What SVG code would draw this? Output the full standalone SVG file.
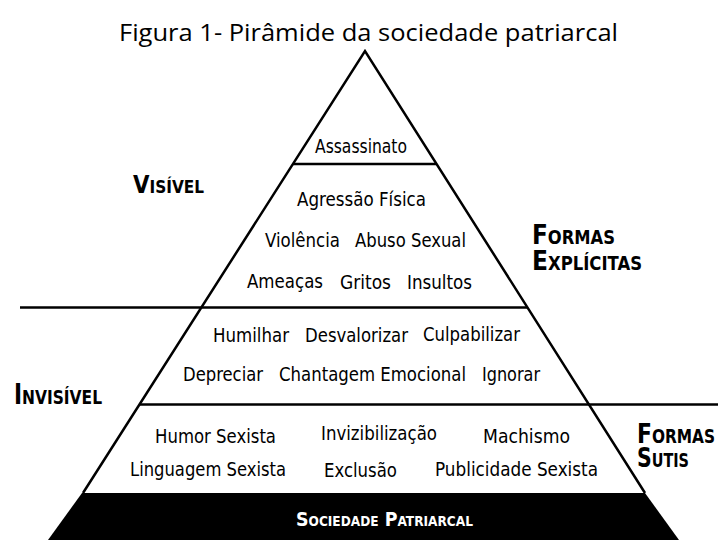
<svg xmlns="http://www.w3.org/2000/svg" width="722" height="540" viewBox="0 0 722 540">
<style>
.t{font-family:"Liberation Sans Narrow","DejaVu Sans Condensed","Liberation Sans",sans-serif;font-stretch:condensed;font-size:19px;fill:#000}
.b{font-family:"Liberation Sans Narrow","DejaVu Sans Condensed","Liberation Sans",sans-serif;font-stretch:condensed;font-weight:bold;font-variant:small-caps;fill:#000}
.title{font-family:"Open Sans","Liberation Sans",sans-serif;font-size:24px;fill:#000}
.ln{stroke:#000;stroke-width:2.5;fill:none}
</style>
<rect width="722" height="540" fill="#fff"/>
<text class="title" x="119" y="41" textLength="499" lengthAdjust="spacingAndGlyphs">Figura 1- Pirâmide da sociedade patriarcal</text>

<g id="connectors">
<path class="ln" d="M83,493 L365,51 L645,493"/>
<line class="ln" x1="293" y1="164" x2="436" y2="164" stroke-width="3"/>
<line class="ln" x1="20" y1="307.5" x2="527" y2="307.5"/>
<line class="ln" x1="140" y1="404.5" x2="718" y2="404.5"/>
</g>

<g id="tier-assassinato">
<text class="t" x="315" y="153" textLength="92" lengthAdjust="spacingAndGlyphs">Assassinato</text>
</g>

<g id="tier-visivel">
<text class="t" x="297" y="206" textLength="129" lengthAdjust="spacingAndGlyphs">Agressão Física</text>
<text class="t" x="265" y="247" textLength="75" lengthAdjust="spacingAndGlyphs">Violência</text>
<text class="t" x="355" y="247" textLength="111" lengthAdjust="spacingAndGlyphs">Abuso Sexual</text>
<text class="t" x="247" y="288" textLength="76" lengthAdjust="spacingAndGlyphs">Ameaças</text>
<text class="t" x="340" y="289" textLength="51" lengthAdjust="spacingAndGlyphs">Gritos</text>
<text class="t" x="407" y="289" textLength="65" lengthAdjust="spacingAndGlyphs">Insultos</text>
</g>

<g id="tier-invisivel">
<text class="t" x="213" y="342" textLength="76" lengthAdjust="spacingAndGlyphs">Humilhar</text>
<text class="t" x="305" y="342" textLength="103" lengthAdjust="spacingAndGlyphs">Desvalorizar</text>
<text class="t" x="423" y="341" textLength="97" lengthAdjust="spacingAndGlyphs">Culpabilizar</text>
<text class="t" x="183" y="381" textLength="80" lengthAdjust="spacingAndGlyphs">Depreciar</text>
<text class="t" x="279" y="381" textLength="187" lengthAdjust="spacingAndGlyphs">Chantagem Emocional</text>
<text class="t" x="482" y="381" textLength="58" lengthAdjust="spacingAndGlyphs">Ignorar</text>
</g>

<g id="tier-sutis">
<text class="t" x="155" y="443" textLength="121" lengthAdjust="spacingAndGlyphs">Humor Sexista</text>
<text class="t" x="321" y="440" textLength="116" lengthAdjust="spacingAndGlyphs">Invizibilização</text>
<text class="t" x="483" y="443" textLength="87" lengthAdjust="spacingAndGlyphs">Machismo</text>
<text class="t" x="130" y="476" textLength="156" lengthAdjust="spacingAndGlyphs">Linguagem Sexista</text>
<text class="t" x="324" y="477" textLength="73" lengthAdjust="spacingAndGlyphs">Exclusão</text>
<text class="t" x="435" y="476" textLength="163" lengthAdjust="spacingAndGlyphs">Publicidade Sexista</text>
</g>

<g id="base">
<polygon points="82,493 645,493 679,540 48,540" fill="#000"/>
<text class="b" x="296" y="526" font-size="20" textLength="177" lengthAdjust="spacingAndGlyphs" style="fill:#fff">Sociedade Patriarcal</text>
</g>

<g id="label-visivel">
<text class="b" x="133" y="193" font-size="25" textLength="71" lengthAdjust="spacingAndGlyphs">Visível</text>
</g>
<g id="label-invisivel">
<text class="b" x="14" y="404" font-size="28" textLength="88" lengthAdjust="spacingAndGlyphs">Invisível</text>
</g>
<g id="label-formas-explicitas">
<text class="b" x="532" y="244" font-size="27" textLength="83" lengthAdjust="spacingAndGlyphs">Formas</text>
<text class="b" x="532" y="270" font-size="27" textLength="110" lengthAdjust="spacingAndGlyphs">Explícitas</text>
</g>
<g id="label-formas-sutis">
<text class="b" x="637" y="443" font-size="27" textLength="78" lengthAdjust="spacingAndGlyphs">Formas</text>
<text class="b" x="637" y="467" font-size="27" textLength="52" lengthAdjust="spacingAndGlyphs">Sutis</text>
</g>
</svg>
